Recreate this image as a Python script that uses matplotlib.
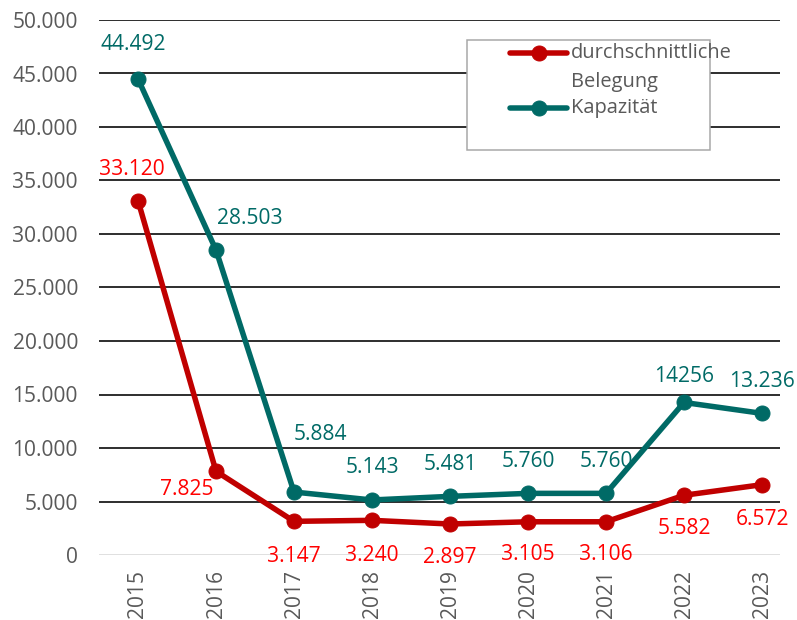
import matplotlib
matplotlib.use("Agg")
import matplotlib.pyplot as plt
from matplotlib.lines import Line2D
from matplotlib.patches import Rectangle

plt.rcParams['font.family'] = ['Open Sans', 'DejaVu Sans']

years = ["2015", "2016", "2017", "2018", "2019", "2020", "2021", "2022", "2023"]
belegung = [33120, 7825, 3147, 3240, 2897, 3105, 3106, 5582, 6572]
kapazitaet = [44492, 28503, 5884, 5143, 5481, 5760, 5760, 14256, 13236]
belegung_labels = ["33.120", "7.825", "3.147", "3.240", "2.897", "3.105", "3.106", "5.582", "6.572"]
kapazitaet_labels = ["44.492", "28.503", "5.884", "5.143", "5.481", "5.760", "5.760", "14256", "13.236"]
yticks = [0, 5000, 10000, 15000, 20000, 25000, 30000, 35000, 40000, 45000, 50000]
ytick_labels = ["0", "5.000", "10.000", "15.000", "20.000", "25.000", "30.000", "35.000", "40.000", "45.000", "50.000"]

RED = "#C00000"
RED_TXT = "#FF0000"
TEAL = "#006A66"
GRAY = "#595959"

W, H = 797, 620
fig = plt.figure(figsize=(W / 72, H / 72), dpi=72)
ax = fig.add_axes([99 / W, (H - 555) / H, (780 - 99) / W, (555 - 20) / H])

x = list(range(len(years)))
ax.plot(x, kapazitaet, color=TEAL, lw=5.5, marker='o', ms=15, zorder=4, solid_joinstyle='round')
ax.plot(x, belegung, color=RED, lw=5.5, marker='o', ms=15, zorder=5, solid_joinstyle='round')

ax.set_xlim(-0.5, (780 - 138) / 78)
ax.set_ylim(0, 50000)
ax.set_yticks(yticks)
ax.set_yticklabels(ytick_labels)
ax.set_xticks(x)
ax.set_xticklabels(years, rotation=90)
ax.tick_params(axis='both', length=0, labelsize=21, labelcolor=GRAY)
ax.tick_params(axis='y', pad=21)
ax.tick_params(axis='x', pad=15)
for s in ax.spines.values():
    s.set_visible(False)
for yv in yticks:
    ax.axhline(yv, color=("#D9D9D9" if yv == 0 else "black"), lw=1.6, zorder=1)

# data label offsets (pixels)
k_off = [(-5, 34), (34, 32), (26, 58), (0, 32), (0, 32), (0, 32), (0, 32), (0, 26), (0, 32)]
b_off = [(-6, 31), (-29, -18), (0, -35), (0, -35), (0, -33), (0, -33), (0, -33), (0, -33), (0, -35)]
for i in x:
    ax.annotate(kapazitaet_labels[i], (i, kapazitaet[i]), xytext=k_off[i], textcoords='offset points',
                ha='center', va='center', color=TEAL, fontsize=21, zorder=6)
    ax.annotate(belegung_labels[i], (i, belegung[i]), xytext=b_off[i], textcoords='offset points',
                ha='center', va='center', color=RED_TXT, fontsize=21, zorder=6)

# legend
fig.add_artist(Rectangle((467 / W, 1 - 150 / H), (710 - 467) / W, (150 - 40) / H,
                         transform=fig.transFigure, fill=True, facecolor='white',
                         edgecolor="#A6A6A6", lw=1.5, zorder=10))
for yy, col in [(52.5, RED), (107.5, TEAL)]:
    fig.add_artist(Line2D([510 / W, 567 / W], [1 - yy / H, 1 - yy / H], transform=fig.transFigure,
                          color=col, lw=5.5, marker=None, solid_capstyle='round', zorder=11))
    fig.add_artist(Line2D([538.5 / W], [1 - yy / H], transform=fig.transFigure,
                          color=col, marker='o', ms=15, ls='none', zorder=12))
for yy, t in [(52.5, "durchschnittliche"), (81.5, "Belegung"), (107.5, "Kapazität")]:
    fig.text(571 / W, 1 - yy / H, t, ha='left', va='center', color=GRAY, fontsize=20, zorder=13)

fig.savefig("out.png", dpi=72)
